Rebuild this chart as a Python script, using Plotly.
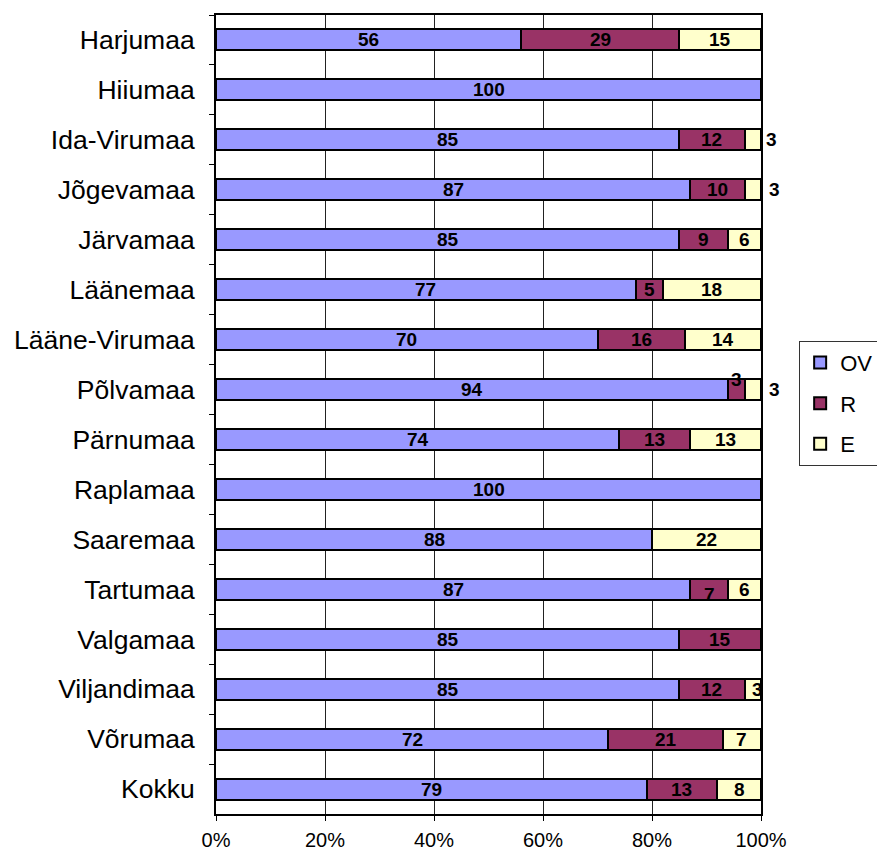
import plotly.graph_objects as go

categories = ["Harjumaa", "Hiiumaa", "Ida-Virumaa", "Jõgevamaa", "Järvamaa", "Läänemaa",
              "Lääne-Virumaa", "Põlvamaa", "Pärnumaa", "Raplamaa", "Saaremaa", "Tartumaa",
              "Valgamaa", "Viljandimaa", "Võrumaa", "Kokku"]
ov = [56, 100, 85, 87, 85, 77, 70, 94, 74, 100, 88, 87, 85, 85, 72, 79]
r = [29, 0, 12, 10, 9, 5, 16, 3, 13, 0, 0, 7, 15, 12, 21, 13]
e = [15, 0, 3, 3, 6, 18, 14, 3, 13, 0, 22, 6, 0, 3, 7, 8]
series_names = ["OV", "R", "E"]
colors = ["#9999FF", "#993366", "#FFFFCC"]
x_ticks = [0, 20, 40, 60, 80, 100]
x_tick_labels = ["0%", "20%", "40%", "60%", "80%", "100%"]

FONT = "Arial, Liberation Sans, sans-serif"

fig = go.Figure()
series = [ov, r, e]
for name, vals, col in zip(series_names, series, colors):
    fig.add_trace(go.Bar(
        y=categories, x=vals, name=name, orientation="h", legendgroup=name,
        marker=dict(color=col, line=dict(color="black", width=2)),
        hoverinfo="x+y+name",
    ))

# label offsets for segments too small to hold their label (style only)
special = {
    ("Ida-Virumaa", 2): (19, 0),
    ("Jõgevamaa", 2): (22, 0),
    ("Põlvamaa", 1): (0, 10),
    ("Põlvamaa", 2): (22, 0),
    ("Tartumaa", 1): (0, -5),
    ("Viljandimaa", 2): (5, 0),
}

annotations = []
for i, cat in enumerate(categories):
    vals = [s[i] for s in series]
    tot = sum(vals)
    cum = 0
    for k, v in enumerate(vals):
        if v > 0:
            center = (cum + v / 2) / tot * 100
            xs, ys = special.get((cat, k), (0, 0))
            annotations.append(dict(
                x=center, y=cat, xref="x", yref="y", text=str(v), showarrow=False,
                xshift=xs, yshift=ys,
                font=dict(family=FONT, size=19, color="black", weight="bold"),
            ))
        cum += v

fig.update_layout(
    barmode="stack", barnorm="percent", bargap=0.58,
    width=877, height=844,
    margin=dict(l=208, r=124, t=7, b=38, autoexpand=False),
    plot_bgcolor="white", paper_bgcolor="white",
    font=dict(family=FONT, color="black"),
    annotations=annotations,
    legend=dict(
        x=1.07, y=0.514, xanchor="left", yanchor="middle",
        bordercolor="#333", borderwidth=1, bgcolor="white",
        font=dict(size=22, family=FONT), traceorder="grouped",
        itemwidth=30, tracegroupgap=9,
    ),
    showlegend=True,
)
fig.update_xaxes(
    range=[0, 100], tickvals=x_ticks, ticktext=x_tick_labels,
    showgrid=True, gridcolor="#222", gridwidth=1,
    showline=True, linecolor="black", linewidth=2, mirror=True,
    ticks="outside", ticklen=5, tickcolor="black",
    tickfont=dict(size=20, family=FONT), ticklabelstandoff=2,
    zeroline=False, fixedrange=True,
)
fig.update_yaxes(
    type="category", autorange="reversed",
    showline=True, linecolor="black", linewidth=2, mirror=True,
    ticks="outside", ticklen=5, tickson="boundaries", tickcolor="black",
    tickfont=dict(size=26.5, family=FONT), ticklabelstandoff=14, showgrid=False,
)

fig.write_html("out.html")
